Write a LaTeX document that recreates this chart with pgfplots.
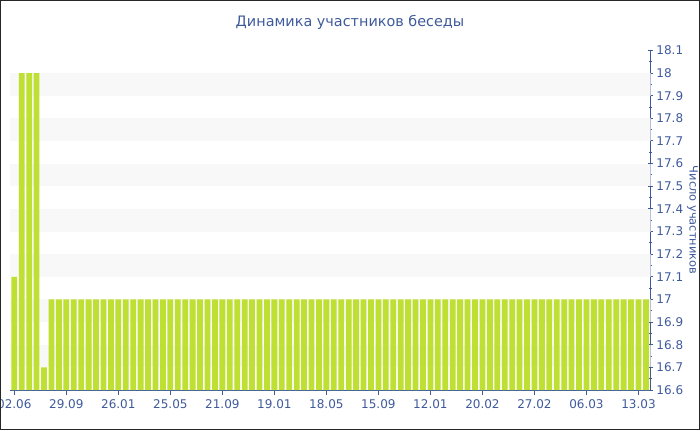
\documentclass[border=0pt]{standalone}
\usepackage{fontspec}
\setmainfont{DejaVu Sans}
\usepackage{pgfplots}
\usepackage{pgfplotstable}
\pgfplotsset{compat=1.18}

\definecolor{vkblue}{HTML}{3F5A9C}
\definecolor{bargreen}{HTML}{BDE032}
\definecolor{band}{HTML}{F8F8F8}

% число участников по дням
\pgfplotstableread{
x y
0 17.1
1 18
2 18
3 18
4 16.7
5 17
6 17
7 17
8 17
9 17
10 17
11 17
12 17
13 17
14 17
15 17
16 17
17 17
18 17
19 17
20 17
21 17
22 17
23 17
24 17
25 17
26 17
27 17
28 17
29 17
30 17
31 17
32 17
33 17
34 17
35 17
36 17
37 17
38 17
39 17
40 17
41 17
42 17
43 17
44 17
45 17
46 17
47 17
48 17
49 17
50 17
51 17
52 17
53 17
54 17
55 17
56 17
57 17
58 17
59 17
60 17
61 17
62 17
63 17
64 17
65 17
66 17
67 17
68 17
69 17
70 17
71 17
72 17
73 17
74 17
75 17
76 17
77 17
78 17
79 17
80 17
81 17
82 17
83 17
84 17
85 17
}\members

\begin{document}
\begin{tikzpicture}
\useasboundingbox (0,0) rectangle (350pt,215pt);
\begin{axis}[
  at={(5pt,20pt)}, anchor=south west, scale only axis,
  width=320.25pt, height=169.8pt,
  xmin=-0.58, xmax=85.62, ymin=16.6, ymax=18.1,
  axis x line*=bottom, axis y line*=right,
  axis line style={vkblue, line width=0.5pt, -},
  ybar, bar width=0.78,
  xtick={0,7,14,21,28,35,42,49,56,63,70,77,84},
  xticklabels={02.06,29.09,26.01,25.05,21.09,19.01,18.05,15.09,12.01,20.02,27.02,06.03,13.03},
  ytick={16.6,16.7,16.8,16.9,17,17.1,17.2,17.3,17.4,17.5,17.6,17.7,17.8,17.9,18,18.1},
  minor y tick num=1,
  tick style={vkblue, line width=0.5pt},
  xtick align=outside, ytick align=center,
  major tick length=2.5pt, minor tick length=1.5pt,
  xticklabel style={font=\fontsize{6}{7}\selectfont, text=vkblue, yshift=1pt},
  yticklabel style={font=\fontsize{6}{7}\selectfont, text=vkblue, xshift=-1.8pt},
  /pgf/number format/assume math mode=true,
]
\fill[band] (axis cs:-1,16.7) rectangle (axis cs:90,16.8);
\fill[band] (axis cs:-1,16.9) rectangle (axis cs:90,17.0);
\fill[band] (axis cs:-1,17.1) rectangle (axis cs:90,17.2);
\fill[band] (axis cs:-1,17.3) rectangle (axis cs:90,17.4);
\fill[band] (axis cs:-1,17.5) rectangle (axis cs:90,17.6);
\fill[band] (axis cs:-1,17.7) rectangle (axis cs:90,17.8);
\fill[band] (axis cs:-1,17.9) rectangle (axis cs:90,18.0);
\addplot[fill=bargreen, draw=none] table {\members};
\end{axis}
\node[text=vkblue, font=\fontsize{7.2}{8}\selectfont] at (175pt,204pt) {Динамика участников беседы};
\node[rotate=-90, text=vkblue, font=\fontsize{5.7}{6}\selectfont] at (346.3pt,105pt) {Число участников};
\draw[line width=0.5pt, black!85] (0.25pt,0.25pt) rectangle (349.75pt,214.75pt);
\end{tikzpicture}
\end{document}
